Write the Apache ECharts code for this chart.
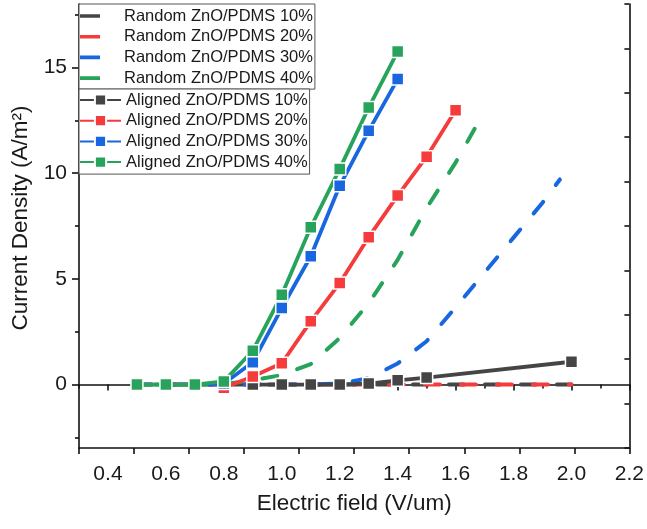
<!DOCTYPE html>
<html>
<head>
<meta charset="utf-8">
<script src="https://cdn.jsdelivr.net/npm/echarts@6/dist/echarts.min.js"></script>
<style>
  html, body { margin: 0; padding: 0; background: #fff; }
  #chart { width: 647px; height: 529px; }
</style>
</head>
<body>
<div id="chart"></div>
<script>
// Electric field (V/um) sampled for each curve
const fieldRandom10 = [0.5, 0.6, 0.7, 0.8, 0.9, 1.0, 1.1, 1.2, 1.3, 1.4, 1.5, 1.6, 1.7, 1.8, 1.9, 2.0];
const fieldRandom20 = [0.5, 0.6, 0.7, 0.8, 0.9, 1.0, 1.1, 1.2, 1.3, 1.4, 1.5, 1.6, 1.7, 1.8, 1.9, 2.0];
const fieldRandom30 = [0.5, 0.6, 0.7, 0.8, 0.9, 1.0, 1.1, 1.2, 1.3, 1.4, 1.5, 1.6, 1.7, 1.8, 1.9, 1.96];
const fieldRandom40 = [0.5, 0.6, 0.7, 0.8, 0.9, 1.0, 1.1, 1.2, 1.3, 1.4, 1.5, 1.6, 1.67];
const fieldAligned10 = [0.9, 1.0, 1.1, 1.2, 1.3, 1.4, 1.5, 2.0];
const fieldAligned20 = [0.8, 0.9, 1.0, 1.1, 1.2, 1.3, 1.4, 1.5, 1.6];
const fieldAligned30 = [0.8, 0.9, 1.0, 1.1, 1.2, 1.3, 1.4];
const fieldAligned40 = [0.5, 0.6, 0.7, 0.8, 0.9, 1.0, 1.1, 1.2, 1.3, 1.4];

// Current density (A/m²)
const densityRandom10 = [0, 0, 0, 0, 0, 0, 0, 0, 0, 0, 0, 0, 0, 0, 0, 0];
const densityRandom20 = [0, 0, 0, 0, 0, 0, 0, 0, 0, 0, 0, 0, 0, 0, 0, 0];
const densityRandom30 = [0, 0, 0, 0, 0, 0, 0, 0.05, 0.3, 1.0, 2.05, 3.65, 5.3, 6.95, 8.6, 9.7];
const densityRandom40 = [0, 0, 0, 0.02, 0.2, 0.45, 0.97, 2.2, 3.85, 5.9, 8.35, 10.5, 12.2];
const densityAligned10 = [0, 0, 0, 0, 0.05, 0.2, 0.33, 1.08];
const densityAligned20 = [-0.15, 0.38, 1.01, 2.99, 4.8, 6.97, 8.94, 10.78, 12.97];
const densityAligned30 = [0.05, 1.06, 3.62, 6.07, 9.4, 12.0, 14.45];
const densityAligned40 = [0, 0, 0, 0.15, 1.6, 4.25, 7.44, 10.2, 13.1, 15.75];

// Tick positions
const xLabelTicks = [0.4, 0.6, 0.8, 1.0, 1.2, 1.4, 1.6, 1.8, 2.0, 2.2];
const xMinorTicks = [0.3, 0.5, 0.7, 0.9, 1.1, 1.3, 1.5, 1.7, 1.9, 2.1];
const yLabelTicks = [0, 5, 10, 15];
const yMinorTicks = [-2.5, 2.5, 7.5, 12.5, 17.5];

const names = {
  r10: 'Random ZnO/PDMS 10%', r20: 'Random ZnO/PDMS 20%',
  r30: 'Random ZnO/PDMS 30%', r40: 'Random ZnO/PDMS 40%',
  a10: 'Aligned ZnO/PDMS 10%', a20: 'Aligned ZnO/PDMS 20%',
  a30: 'Aligned ZnO/PDMS 30%', a40: 'Aligned ZnO/PDMS 40%'
};
const colors = { c10: '#454545', c20: '#f53b3b', c30: '#1866e0', c40: '#27a35b' };

const pairs = (xs, ys) => xs.map((x, i) => [x, ys[i]]);
const font = 'Arial, "Liberation Sans", sans-serif';

// Short thick bar used as the legend key of the dashed curves
// (the tiny corner specks keep the icon box at its full 22x14 size)
const barIcon = 'path://M0,0L0.01,0L0,0.01Z M1,5.2L21,5.2L21,8.8L1,8.8Z M22,14L21.99,14L22,13.99Z';

function randomSeries(name, color, xs, ys, dashOffset) {
  return {
    name, type: 'line', data: pairs(xs, ys), symbol: 'none',
    xAxisIndex: 0, yAxisIndex: 0,
    lineStyle: { color, width: 4, type: [15, 21], dashOffset: dashOffset || 0, cap: 'round' },
    itemStyle: { color },
    emphasis: { disabled: true }, animation: false
  };
}
function alignedSeries(name, color, xs, ys) {
  return {
    name, type: 'line', data: pairs(xs, ys), symbol: 'rect', symbolSize: 12,
    xAxisIndex: 0, yAxisIndex: 0,
    lineStyle: { color, width: 3.8 },
    itemStyle: { color, borderColor: '#ffffff', borderWidth: 1.5 },
    emphasis: { disabled: true }, animation: false
  };
}

const axisLineStyle = { show: true, lineStyle: { color: '#111', width: 1.6 } };

const chart = echarts.init(document.getElementById('chart'), null, { renderer: 'canvas' });
chart.setOption({
  backgroundColor: '#ffffff',
  animation: false,
  grid: { left: 79, right: 17, top: 4, bottom: 81, containLabel: false },
  xAxis: [
    {
      type: 'value', min: 0.3, max: 2.2, position: 'bottom',
      name: 'Electric field (V/um)', nameLocation: 'middle', nameGap: 44,
      nameTextStyle: { fontSize: 22.5, color: '#1a1a1a', fontFamily: font },
      axisLine: axisLineStyle,
      axisTick: { show: true, inside: false, length: 6, customValues: xLabelTicks, lineStyle: { color: '#111', width: 1.6 } },
      axisLabel: { show: true, customValues: xLabelTicks, margin: 16, fontSize: 21, color: '#1a1a1a', fontFamily: font,
        formatter: v => v.toFixed(1) },
      splitLine: { show: false }
    },
    {
      type: 'value', min: 0.3, max: 2.2, position: 'bottom',
      axisLine: { show: false },
      axisTick: { show: true, inside: false, length: 4, customValues: xMinorTicks, lineStyle: { color: '#111', width: 1.6 } },
      axisLabel: { show: false }, splitLine: { show: false }
    },
    {
      type: 'value', min: 0, max: 10, interval: 1, position: 'top',
      axisLine: axisLineStyle,
      axisTick: { show: true, inside: true, length: 6, lineStyle: { color: '#111', width: 1.6 } },
      axisLabel: { show: false }, splitLine: { show: false }
    }
  ],
  yAxis: [
    {
      type: 'value', min: -3, max: 18, position: 'left',
      name: 'Current Density (A/m²)', nameLocation: 'middle', nameGap: 47, nameRotate: 90,
      nameTextStyle: { fontSize: 22.5, color: '#1a1a1a', fontFamily: font, padding: [0, 0, 0, 16] },
      axisLine: axisLineStyle,
      axisTick: { show: true, inside: false, length: 7, customValues: yLabelTicks, lineStyle: { color: '#111', width: 1.6 } },
      axisLabel: { show: true, customValues: yLabelTicks, margin: 12, fontSize: 21, color: '#1a1a1a', fontFamily: font },
      splitLine: { show: false }
    },
    {
      type: 'value', min: -3, max: 18, position: 'left',
      axisLine: { show: false },
      axisTick: { show: true, inside: false, length: 4, customValues: yMinorTicks, lineStyle: { color: '#111', width: 1.6 } },
      axisLabel: { show: false }, splitLine: { show: false }
    },
    {
      type: 'value', min: 0, max: 10, interval: 1, position: 'right',
      axisLine: axisLineStyle,
      axisTick: { show: true, inside: true, length: 5, lineStyle: { color: '#111', width: 1.6 } },
      axisLabel: { show: false }, splitLine: { show: false }
    }
  ],
  legend: [
    {
      data: [names.r10, names.r20, names.r30, names.r40].map(n => ({ name: n, icon: barIcon })),
      orient: 'vertical', left: 79, top: 4, padding: [3, 2, 2, 0],
      itemWidth: 22, itemHeight: 14, itemGap: 2.7,
      backgroundColor: '#ffffff', borderColor: '#555', borderWidth: 1,
      selectedMode: false,
      textStyle: { fontSize: 16.5, color: '#1a1a1a', fontFamily: font, lineHeight: 18, padding: [0, 0, 0, 18] }
    },
    {
      data: [names.a10, names.a20, names.a30, names.a40],
      orient: 'vertical', left: 79, top: 89, padding: [2, 2, 3, 0],
      itemWidth: 41, itemHeight: 14, itemGap: 2.7,
      backgroundColor: '#ffffff', borderColor: '#555', borderWidth: 1,
      selectedMode: false,
      textStyle: { fontSize: 16.5, color: '#1a1a1a', fontFamily: font, lineHeight: 18 }
    }
  ],
  series: [
    randomSeries(names.r10, colors.c10, fieldRandom10, densityRandom10, 12),
    randomSeries(names.r20, colors.c20, fieldRandom20, densityRandom20),
    randomSeries(names.r30, colors.c30, fieldRandom30, densityRandom30),
    randomSeries(names.r40, colors.c40, fieldRandom40, densityRandom40, 18),
    alignedSeries(names.a10, colors.c10, fieldAligned10, densityAligned10),
    alignedSeries(names.a20, colors.c20, fieldAligned20, densityAligned20),
    alignedSeries(names.a30, colors.c30, fieldAligned30, densityAligned30),
    alignedSeries(names.a40, colors.c40, fieldAligned40, densityAligned40)
  ]
});
</script>
</body>
</html>
